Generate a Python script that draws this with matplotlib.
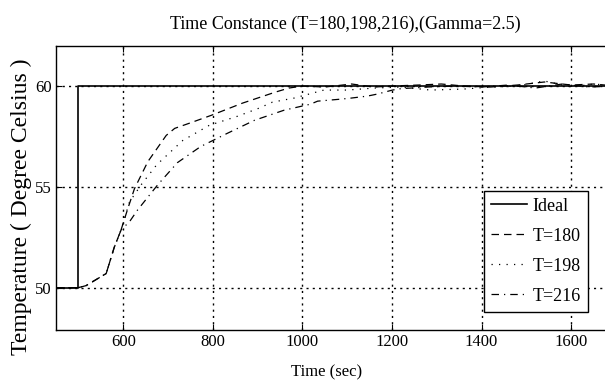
import matplotlib
matplotlib.use("Agg")
import matplotlib.pyplot as plt

plt.rcParams['font.family'] = ['Liberation Serif', 'DejaVu Serif']

# ideal step
t_ideal = [450, 500, 500, 1700]
y_ideal = [50, 50, 60, 60]

# T=180 (dashed)
t180 = [450, 500, 517, 562, 580, 595, 610, 625, 655, 696, 715, 747, 797, 866, 940, 970,
        1000, 1050, 1110, 1160, 1200, 1260, 1310, 1360, 1420, 1480, 1540, 1600, 1650, 1700]
y180 = [50, 50, 50.1, 50.7, 52.0, 52.85, 53.9, 54.9, 56.25, 57.55, 57.9, 58.15, 58.55, 59.15, 59.7, 59.9,
        60.0, 59.95, 60.1, 59.95, 60.0, 60.05, 60.1, 60.0, 59.95, 60.05, 60.2, 60.05, 60.1, 60.0]

# T=198 (dotted)
t198 = [450, 500, 517, 562, 580, 595, 614, 640, 675, 733, 792, 855, 903, 933, 981, 1048,
        1100, 1160, 1220, 1286, 1360, 1420, 1480, 1540, 1600, 1650, 1700]
y198 = [50, 50, 50.1, 50.7, 52.0, 52.85, 54.25, 55.1, 56.1, 57.3, 58.05, 58.5, 58.9, 59.2, 59.4, 59.8,
        59.8, 59.9, 59.95, 59.8, 59.85, 59.95, 60.0, 60.25, 59.95, 60.1, 60.0]

# T=216 (dash-dot)
t216 = [450, 500, 517, 562, 580, 595, 615, 632, 677, 721, 773, 832, 893, 959, 1018, 1034,
        1086, 1108, 1145, 1167, 1201, 1220, 1280, 1340, 1400, 1460, 1520, 1580, 1640, 1700]
y216 = [50, 50, 50.1, 50.7, 52.0, 52.85, 53.3, 53.85, 55.1, 56.2, 57.0, 57.65, 58.3, 58.8, 59.1, 59.25,
        59.35, 59.4, 59.5, 59.6, 59.8, 59.87, 59.95, 60.0, 59.95, 60.05, 59.9, 60.1, 59.95, 60.0]

xticks = [600, 800, 1000, 1200, 1400, 1600]
yticks = [50, 55, 60]

W, H = 605, 388
fig = plt.figure(figsize=(W / 100, H / 100), dpi=100)
ax = fig.add_axes([56 / W, 1 - 330 / H, 560 / W, 284.3 / H])

ax.plot(t_ideal, y_ideal, color='black', lw=1.2, label='Ideal')
ax.plot(t180, y180, color='black', lw=0.9, ls=(0, (6, 4)), label='T=180')
ax.plot(t198, y198, color='black', lw=0.9, ls=(0, (1, 5)), label='T=198')
ax.plot(t216, y216, color='black', lw=0.9, ls=(0, (6, 4, 1, 4)), label='T=216')

ax.set_xlim(450, 1700)
ax.set_ylim(47.9, 62.0)
ax.set_xticks(xticks)
ax.set_yticks(yticks)
ax.grid(True, color='black', lw=1.0, ls=(0, (1.5, 3)))
ax.tick_params(direction='in', length=4, top=True, right=True, labelsize=12, pad=3)
for s in ax.spines.values():
    s.set_linewidth(1.0)

leg = ax.legend(loc='lower right', bbox_to_anchor=(588 / W, 1 - 312 / H),
                bbox_transform=fig.transFigure, borderaxespad=0, fontsize=13,
                fancybox=False, framealpha=1, edgecolor='black', handlelength=2.0,
                handletextpad=0.3, labelspacing=0.72, borderpad=0.4)
leg.get_frame().set_linewidth(1.0)

fig.text(345 / W, 1 - 24 / H, 'Time Constance (T=180,198,216),(Gamma=2.5)',
         ha='center', va='center', fontsize=13)
fig.text(327 / W, 1 - 372 / H, 'Time (sec)', ha='center', va='center', fontsize=12)
fig.text(21 / W, 1 - 207 / H, 'Temperature ( Degree Celsius )', ha='center', va='center',
         rotation=90, fontsize=17)

fig.savefig('out.png', dpi=100)
